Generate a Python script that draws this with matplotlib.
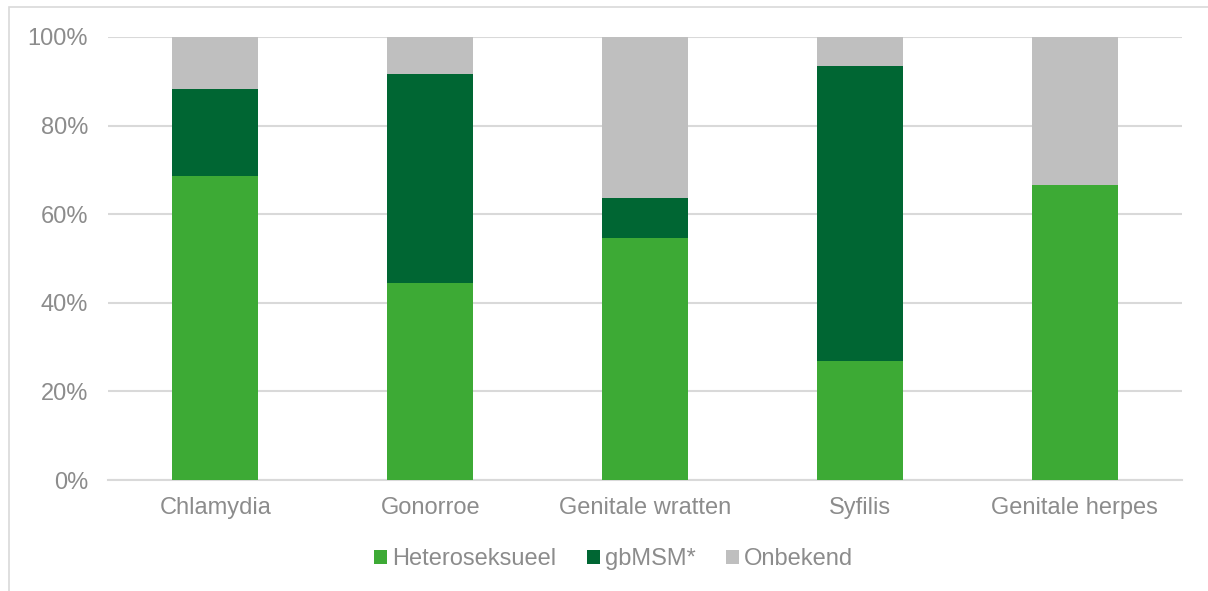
import matplotlib
matplotlib.use("Agg")
import matplotlib.pyplot as plt
from matplotlib.patches import Rectangle
import numpy as np

plt.rcParams['font.family'] = ['Liberation Sans', 'DejaVu Sans']

categories = ['Chlamydia', 'Gonorroe', 'Genitale wratten', 'Syfilis', 'Genitale herpes']
hetero = [68.6, 44.5, 54.6, 26.9, 66.6]
gbmsm = [19.7, 47.1, 9.1, 66.6, 0.0]
onbekend = [11.7, 8.4, 36.3, 6.5, 33.4]
series_names = ['Heteroseksueel', 'gbMSM*', 'Onbekend']
colors = ['#3DAA35', '#006633', '#BFBFBF']
text_color = '#8C8C8C'
grid_color = '#D9D9D9'

fig = plt.figure(figsize=(12.08, 5.91), dpi=100)
ax = fig.add_axes([0.0894, 0.1878, 0.8891, 0.7496])

x = np.arange(len(categories))
bottom = np.zeros(len(categories))
for vals, name, col in zip([hetero, gbmsm, onbekend], series_names, colors):
    ax.bar(x, vals, width=0.4, bottom=bottom, color=col, label=name, zorder=3)
    bottom += np.array(vals)

ax.set_xlim(-0.5, len(categories) - 0.5)
ax.set_ylim(0, 100)
ax.set_yticks(np.arange(0, 101, 20))
ax.set_yticklabels([f'{v}%' for v in range(0, 101, 20)])
ax.set_xticks(x)
ax.set_xticklabels(categories)
ax.tick_params(axis='both', length=0, labelsize=17, colors=text_color)
ax.tick_params(axis='y', pad=14.4)
ax.tick_params(axis='x', pad=12)
ax.yaxis.grid(True, color=grid_color, linewidth=1.5, zorder=0)
for s in ['top', 'right', 'left']:
    ax.spines[s].set_visible(False)
ax.spines['bottom'].set_color(grid_color)
ax.spines['bottom'].set_linewidth(1.5)

leg = fig.legend(loc='center', bbox_to_anchor=(0.508, 1 - 559 / 591), ncol=3,
                 frameon=False, fontsize=17, handlelength=0.55, handleheight=0.55,
                 handletextpad=0.2, columnspacing=1.3)
for t in leg.get_texts():
    t.set_color(text_color)

# light outer frame around the chart
fig.patches.append(Rectangle((9 / 1208, -0.1), 1.2, 1 - 7 / 591 + 0.1,
                             transform=fig.transFigure, fill=False,
                             edgecolor=grid_color, linewidth=1.2))

fig.savefig('out.png', dpi=100)
